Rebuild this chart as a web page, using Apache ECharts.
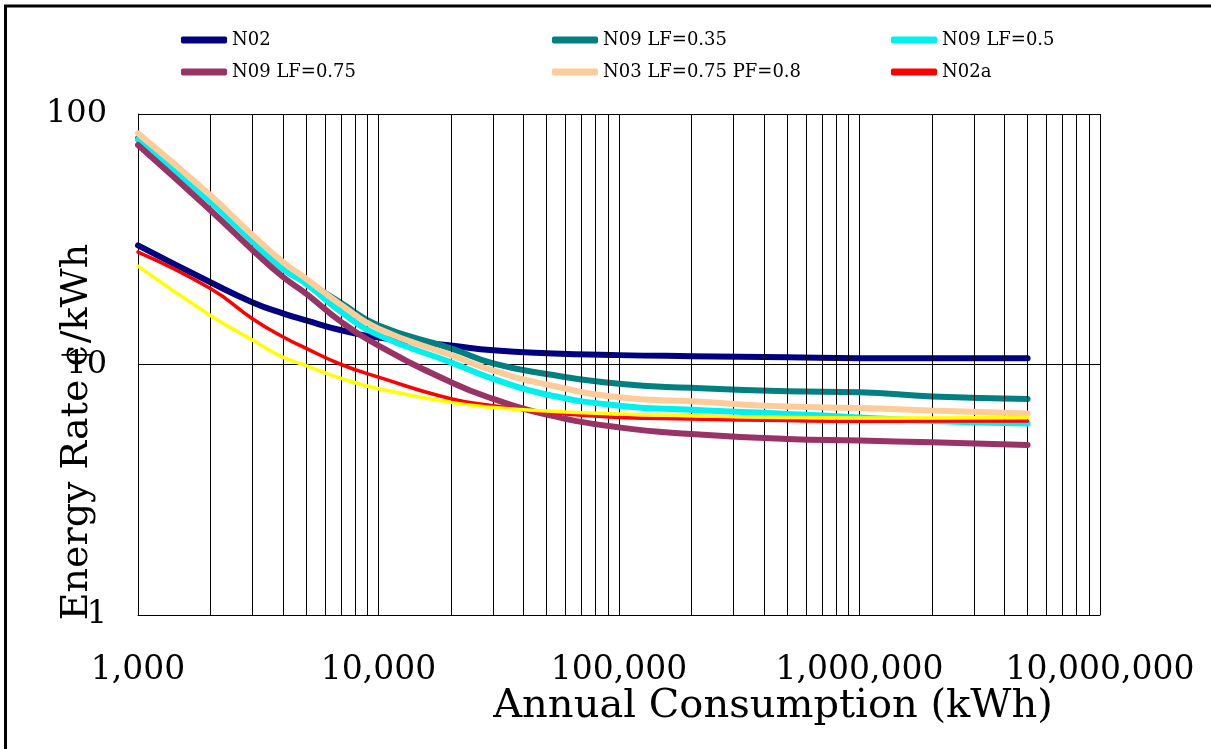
<!DOCTYPE html>
<html><head><meta charset="utf-8">
<script src="https://cdn.jsdelivr.net/npm/echarts@6/dist/echarts.min.js"></script>
<style>html,body{margin:0;padding:0;background:#fff;overflow:hidden}#c{width:1211px;height:749px;}</style>
</head><body><div id="c"></div>
<script>
// Annual consumption (kWh)
const consumption = [1000, 2000, 3000, 4000, 5000, 7000, 10000, 20000, 30000, 50000, 100000, 200000, 500000, 1000000, 2000000, 5000000];
// Energy rate (cents/kWh)
const n02       = [29.9, 21.3, 17.7, 16.0, 15.0, 13.7, 12.8, 11.9, 11.4, 11.1, 10.9, 10.8, 10.7, 10.6, 10.6, 10.6];
const n09lf035  = [80.0, 45.0, 31.5, 24.8, 21.6, 17.6, 14.3, 11.6, 10.1, 9.16, 8.37, 8.07, 7.82, 7.75, 7.45, 7.29];
const n09lf05   = [79.0, 44.6, 30.9, 24.1, 21.0, 16.2, 13.1, 10.2, 8.76, 7.59, 6.85, 6.59, 6.35, 6.15, 5.95, 5.82];
const n09lf075  = [75.2, 41.3, 28.6, 22.4, 19.2, 14.8, 11.9, 8.5, 7.29, 6.31, 5.61, 5.28, 5.04, 4.97, 4.89, 4.77];
const n03       = [83.7, 47.4, 32.8, 25.7, 22.0, 17.3, 13.9, 10.9, 9.46, 8.32, 7.40, 7.13, 6.79, 6.71, 6.55, 6.38];
const n02a      = [28.1, 20.1, 15.2, 12.9, 11.6, 10.0, 8.9, 7.3, 6.85, 6.45, 6.15, 6.06, 5.97, 5.93, 5.95, 5.95];
const unlabeled = [24.7, 15.7, 12.5, 10.7, 9.9, 8.8, 8.0, 7.06, 6.74, 6.52, 6.35, 6.25, 6.15, 6.12, 6.12, 6.15];
const seriesNames = ['N02', 'N09 LF=0.35', 'N09 LF=0.5', 'N09 LF=0.75', 'N03 LF=0.75 PF=0.8', 'N02a', 'Series 7'];
// minor vertical grid values
const xMinorGrid = [2000,3000,4000,5000,6000,7000,8000,9000,
  20000,30000,40000,50000,60000,70000,80000,90000,
  200000,300000,400000,500000,600000,700000,800000,900000,
  2000000,3000000,4000000,5000000,6000000,7000000,8000000,9000000];

const FONT = 'DejaVu Serif';
const values = [n02, n09lf035, n09lf05, n09lf075, n03, n02a, unlabeled];
const colors = ['#000080', '#008080', '#00F0F0', '#993366', '#FFCC99', '#FF0000', '#FFFF00'];
const widths = [6, 6, 6, 6, 6, 3.5, 3.5];

const series = values.map((vals, i) => ({
  name: seriesNames[i],
  type: 'line',
  smooth: 0.5,
  showSymbol: false,
  symbol: 'none',
  z: 3 + i,
  lineStyle: { color: colors[i], width: widths[i], cap: 'round', join: 'round' },
  itemStyle: { color: colors[i] },
  emphasis: { disabled: true },
  data: consumption.map((x, k) => [x, vals[k]])
}));
series.unshift({
  name: 'grid',
  type: 'line',
  data: [],
  z: 1,
  silent: true,
  markLine: {
    silent: true,
    symbol: ['none', 'none'],
    label: { show: false },
    emphasis: { disabled: true },
    lineStyle: { color: '#000', width: 1, type: 'solid' },
    data: xMinorGrid.map(v => ({ xAxis: v }))
  }
});

const legendBase = {
  orient: 'vertical',
  icon: 'roundRect',
  itemWidth: 46,
  itemHeight: 7,
  itemGap: 14,
  top: 26,
  textStyle: { fontFamily: FONT, fontSize: 18, color: '#000' }
};

const chart = echarts.init(document.getElementById('c'));
chart.setOption({
  animation: false,
  backgroundColor: '#fff',
  graphic: [{
    type: 'rect', shape: { x: 5.5, y: 6, width: 1400, height: 900 },
    style: { fill: 'none', stroke: '#000', lineWidth: 3 }, silent: true
  }],
  legend: [
    Object.assign({}, legendBase, { left: 176, data: [seriesNames[0], seriesNames[3]] }),
    Object.assign({}, legendBase, { left: 547, data: [seriesNames[1], seriesNames[4]] }),
    Object.assign({}, legendBase, { left: 886, data: [seriesNames[2], seriesNames[5]] })
  ],
  grid: { left: 138, right: 111, top: 114, bottom: 134, containLabel: false, outerBoundsMode: 'none' },
  xAxis: {
    type: 'log', logBase: 10, min: 1000, max: 10000000,
    name: 'Annual Consumption (kWh)', nameLocation: 'middle', nameGap: 72, nameMoveOverlap: false,
    nameTextStyle: { fontFamily: FONT, fontSize: 40, color: '#000', padding: [0, 0, 0, 308] },
    axisLine: { lineStyle: { color: '#000', width: 1 } },
    axisTick: { show: false },
    axisLabel: { fontFamily: FONT, fontSize: 33, color: '#000', margin: 39,
      formatter: v => Number(v).toLocaleString('en-US') },
    splitLine: { show: true, lineStyle: { color: '#000', width: 1 } }
  },
  yAxis: {
    type: 'log', logBase: 10, min: 1, max: 100,
    name: 'Energy Rate ¢/kWh', nameLocation: 'middle', nameGap: 42, nameRotate: 90, nameMoveOverlap: false,
    nameTextStyle: { fontFamily: FONT, fontSize: 38, color: '#000', padding: [0, 135, 0, 0] },
    axisLine: { show: true, lineStyle: { color: '#000', width: 1 } },
    axisTick: { show: false },
    axisLabel: { fontFamily: FONT, fontSize: 32, color: '#000', margin: 31 },
    splitLine: { show: true, lineStyle: { color: '#000', width: 1 } }
  },
  series: series
});
</script></body></html>
